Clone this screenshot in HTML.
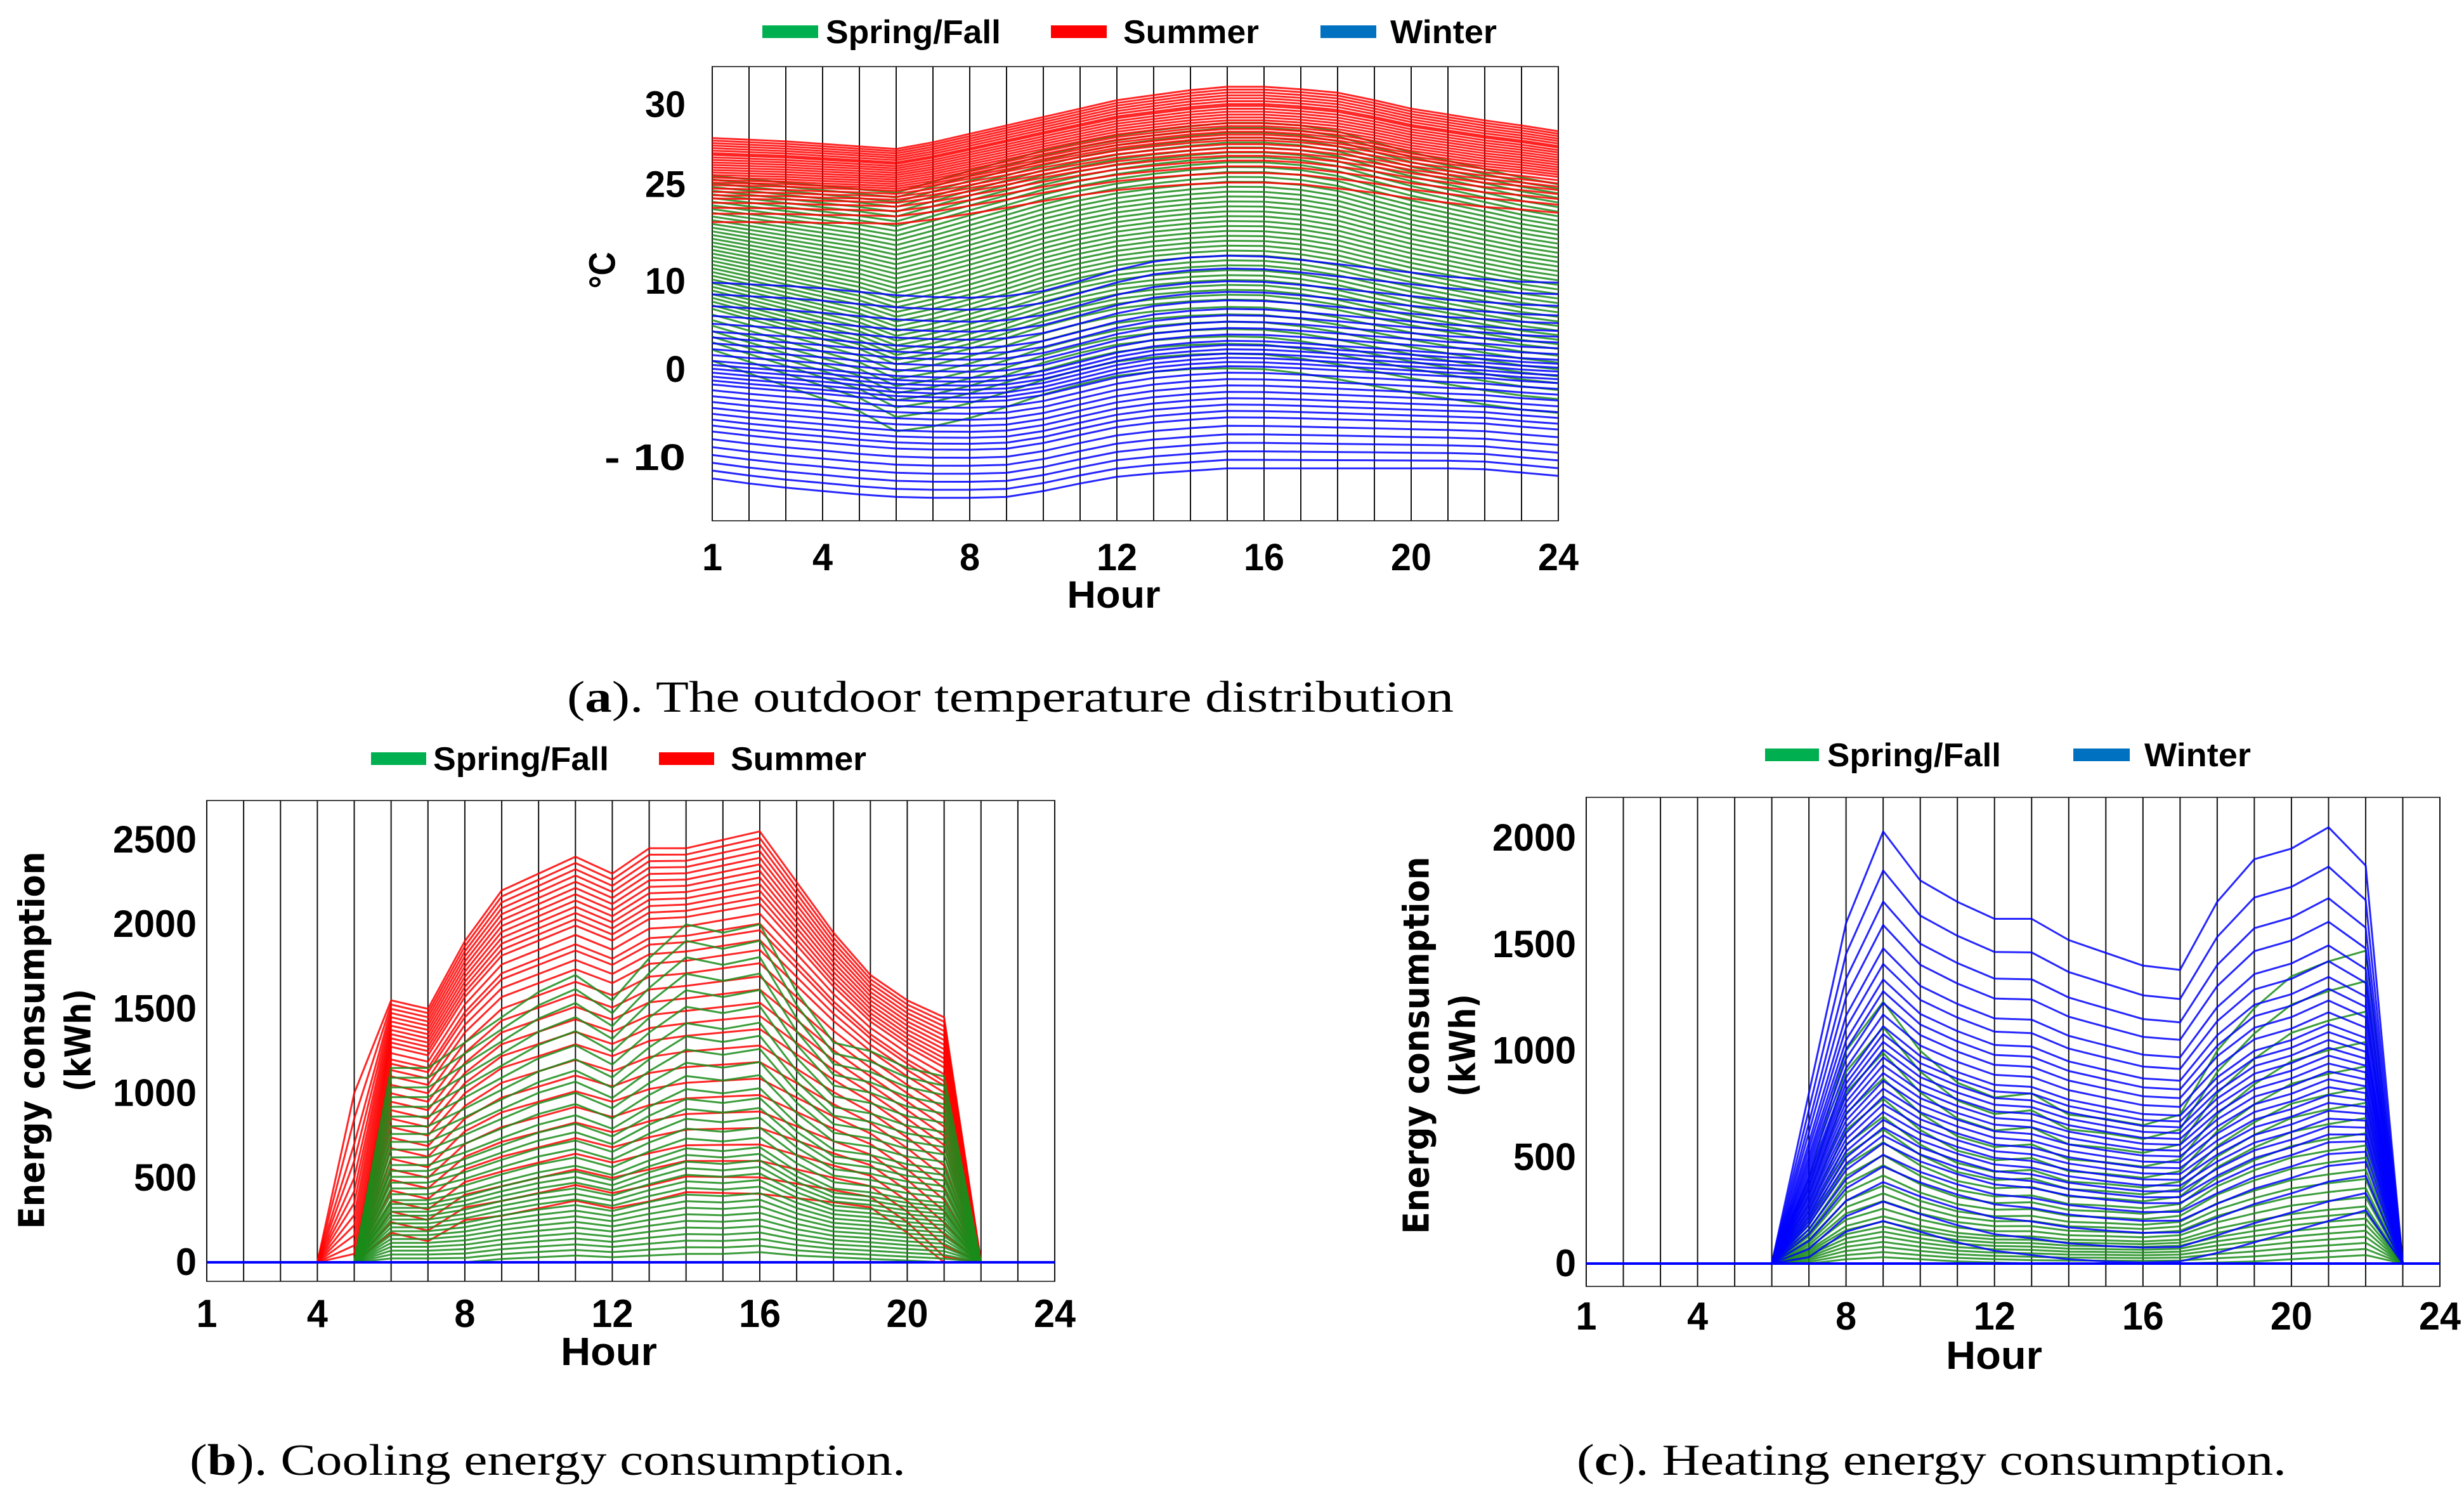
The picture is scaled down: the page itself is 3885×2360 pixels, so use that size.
<!DOCTYPE html>
<html><head><meta charset="utf-8"><style>
html,body{margin:0;padding:0;background:#fff;}
svg{display:block;}
</style></head><body>
<svg id="root" xmlns="http://www.w3.org/2000/svg" width="3885" height="2360" viewBox="0 0 3885 2360">
<rect x="0" y="0" width="3885" height="2360" fill="#fff"/>
</svg>
<script>
// ---------- Hours ----------
const hours = [1,2,3,4,5,6,7,8,9,10,11,12,13,14,15,16,17,18,19,20,21,22,23,24];
const xTickHours = [1,4,8,12,16,20,24];

// ---------- Chart (a) temperature ----------
const tempSummerUpper = [27.5,27.3,27.1,26.8,26.5,26.2,27,28,29,30,31,32,32.6,33.2,33.6,33.6,33.3,32.9,32,31,30.3,29.6,29,28.3];
const tempSummerLower = [17.5,17.5,17.5,17.4,17.4,17.3,17.8,18.5,19.2,20,20.7,21.3,21.7,22,22.2,22.2,22,21.5,21,20.3,19.8,19.3,19,18.6];
const tempSummerMix = [0,0.03,0.06,0.09,0.12,0.15,0.18,0.2,0.23,0.26,0.29,0.32,0.35,0.38,0.41,0.44,0.47,0.5,0.53,0.56,0.6,0.64,0.68,0.72,0.77,0.83,0.9,1];
const tempGreenUpper = [23,22.6,22.2,21.8,21.4,21,22.3,23.6,24.8,26,27,27.8,28.4,28.9,29.3,29.3,29,28.3,27,25.8,24.8,23.8,22.8,22];
const tempGreenLower = [1,-0.5,-2,-3.5,-5,-7.4,-6.8,-5.8,-4.5,-3,-1.8,-0.8,-0.3,0,0.1,0,-0.5,-1.2,-2,-2.8,-3.5,-4.2,-4.8,-5.2];
const tempGreenMix = [0,0.02,0.04,0.06,0.08,0.1,0.12,0.14,0.16,0.18,0.2,0.22,0.24,0.26,0.28,0.3,0.32,0.34,0.36,0.38,0.4,0.42,0.44,0.46,0.48,0.5,0.52,0.54,0.56,0.58,0.6,0.62,0.64,0.66,0.68,0.7,0.72,0.75,0.78,0.81,0.84,0.87,0.9,0.94,1];
const tempWinterUpper = [10.3,10.1,9.9,9.6,9.2,8.8,8.6,8.5,8.7,9.3,10.5,11.8,12.8,13.3,13.5,13.4,13,12.5,12,11.5,11,10.7,10.4,10.3];
const tempWinterLower = [-13,-13.6,-14.1,-14.5,-14.9,-15.2,-15.3,-15.3,-15.2,-14.5,-13.6,-12.8,-12.4,-12.1,-11.8,-11.8,-11.8,-11.8,-11.8,-11.8,-11.8,-11.9,-12.3,-12.7];
const tempWinterMix = [0,0.06,0.12,0.17,0.21,0.25,0.28,0.31,0.34,0.37,0.4,0.42,0.44,0.46,0.48,0.5,0.52,0.55,0.58,0.61,0.64,0.67,0.7,0.73,0.76,0.8,0.84,0.88,0.92,0.96,1];
const tempTickVals = [31.5,22,10.5,0,-10.5];
const tempTickLabels = ["30","25","10","0","- 10"];

// ---------- Chart (b) cooling ----------
const coolSummerUpper = [0,0,0,0,0,1550,1500,1900,2200,2300,2400,2300,2450,2450,2500,2550,2250,1950,1700,1550,1450,0,0,0];
const coolSummerLower = [0,0,0,0,0,300,250,400,450,500,550,500,550,600,600,600,550,500,450,300,100,0,0,0];
const coolSummerMix = [0,0.02,0.04,0.06,0.08,0.1,0.12,0.14,0.16,0.18,0.2,0.22,0.25,0.28,0.3,0.33,0.36,0.4,0.44,0.48,0.52,0.56,0.6,0.65,0.7,0.75,0.8,0.85,0.9,0.95,1.0,1.05,1.1];
const coolSummerH5 = [1000,850,700,600,500,420,350,280,220,160,100,50,0,0,0,0,0,0,0,0,0,0,0,0,0,0,0,0,0,0,0,0,0];
const coolGreenUpper = [0,0,0,0,0,1150,1150,1300,1450,1600,1700,1550,1800,2000,1950,2000,1600,1300,1250,1150,1100,0,0,0];
const coolGreenLower = [0,0,0,0,0,0,0,0,20,30,40,30,40,50,50,60,40,30,20,10,0,0,0,0];
const coolGreenMix = [0,0.05,0.1,0.15,0.2,0.25,0.3,0.34,0.38,0.42,0.46,0.5,0.53,0.56,0.59,0.62,0.65,0.68,0.7,0.72,0.74,0.76,0.78,0.8,0.82,0.84,0.86,0.88,0.9,0.92,0.94,0.96,0.98,1];
const coolTickVals = [0,500,1000,1500,2000,2500];
const coolTickLabels = ["0","500","1000","1500","2000","2500"];

// ---------- Chart (c) heating ----------
const heatWinterUpper = [0,0,0,0,0,0,800,1600,2030,1800,1700,1620,1620,1520,1460,1400,1380,1700,1900,1950,2050,1870,0,0];
const heatWinterLower = [0,0,0,0,0,0,30,150,200,150,100,60,40,20,10,5,10,50,100,150,200,250,0,0];
const heatWinterMix = [0,0.1,0.18,0.24,0.3,0.34,0.38,0.41,0.44,0.47,0.5,0.52,0.54,0.56,0.58,0.6,0.62,0.64,0.66,0.68,0.7,0.72,0.74,0.76,0.78,0.8,0.83,0.86,0.9,0.95,1];
const heatGreenUpper = [0,0,0,0,0,0,400,1000,1230,1000,850,780,800,700,680,650,700,1000,1200,1350,1420,1470,0,0];
const heatGreenLower = [0,0,0,0,0,0,0,20,30,20,10,5,0,0,0,0,0,5,10,20,30,40,0,0];
const heatGreenMix = [0,0.1,0.2,0.3,0.38,0.45,0.5,0.55,0.6,0.64,0.68,0.72,0.75,0.78,0.81,0.84,0.86,0.88,0.9,0.92,0.94,0.96,0.98,1];
const heatTickVals = [0,500,1000,1500,2000];
const heatTickLabels = ["0","500","1000","1500","2000"];

const NS = "http://www.w3.org/2000/svg";
const root = document.getElementById('root');
function mk(tag, attrs, parent){
  const e = document.createElementNS(NS, tag);
  for (const k in attrs) e.setAttribute(k, attrs[k]);
  (parent||root).appendChild(e);
  return e;
}

function drawChart(cfg){
  const g = mk('g', {});
  
  
  const xS = h => cfg.x0 + (h-1)*(cfg.x1-cfg.x0)/23;
  const yS = v => cfg.yZero - v*cfg.yPer;
  const fr = mk('rect', {x:cfg.x0, y:cfg.top, width:cfg.x1-cfg.x0, height:cfg.bottom-cfg.top, fill:'none', stroke:'#444', 'stroke-width':2}, g);
  
  
  hours.forEach(h => {
    const l = mk('line', {x1:xS(h), x2:xS(h), y1:cfg.top, y2:cfg.bottom, stroke:'#111', 'stroke-width':2}, g);
    
    
  });
  cfg.series.forEach(s => {
    const sg = mk('g', {}, g);
    
    
    s.mix.forEach((t, i) => {
      const pts = hours.map((h, k) => {
        let v = s.upper[k]*(1-t) + s.lower[k]*t;
        if (s.h5 && k === 4) v = s.h5[i];
        if (cfg.clamp && v < 0) v = 0;
        return xS(h).toFixed(1) + ',' + yS(v).toFixed(1);
      });
      const p = mk('polyline', {points:pts.join(' '), fill:'none', stroke:s.color, 'stroke-width':cfg.sw, 'stroke-opacity':0.85, 'stroke-linejoin':'round'}, sg);
      
      
    });
  });
  if (cfg.zeroLine){
    const z = mk('line', {x1:cfg.x0, x2:cfg.x1, y1:yS(0), y2:yS(0), stroke:'#0000ff', 'stroke-width':4}, g);
    
    
  }
  cfg.tickVals.forEach((v, i) => {
    const lab = cfg.tickLabels[i];
    const t = mk('text', {x:cfg.x0-cfg.labelGap, y:yS(v)+20, 'text-anchor':'end', 'font-family':'Liberation Sans, sans-serif', 'font-weight':'bold', 'font-size':cfg.fs, textLength:lab.length*cfg.cw, lengthAdjust:'spacingAndGlyphs', fill:'#000'}, g);
    t.textContent = lab;
    
    
  });
  xTickHours.forEach(h => {
    const lab = String(h);
    const t = mk('text', {x:xS(h), y:cfg.xLabelY, 'text-anchor':'middle', 'font-family':'Liberation Sans, sans-serif', 'font-weight':'bold', 'font-size':cfg.fs+2, textLength:lab.length*cfg.cw, lengthAdjust:'spacingAndGlyphs', fill:'#000'}, g);
    t.textContent = lab;
    
    
  });
  const ht = mk('text', {x:cfg.hourX, y:cfg.hourY, 'text-anchor':'middle', 'font-family':'Liberation Sans, sans-serif', 'font-weight':'bold', 'font-size':cfg.fs+2, textLength:cfg.cw*4.6, lengthAdjust:'spacingAndGlyphs', fill:'#000'}, g);
  ht.textContent = 'Hour';
  
  
  cfg.legend.forEach(L => {
    const r = mk('rect', {x:L.sx, y:cfg.legY-10, width:L.sw, height:20, fill:L.color}, g);
    
    
    const t = mk('text', {x:L.tx, y:cfg.legY+18, 'font-family':'Liberation Sans, sans-serif', 'font-weight':'bold', 'font-size':52, textLength:L.tw, lengthAdjust:'spacingAndGlyphs', fill:'#000'}, g);
    t.textContent = L.label;
    
    
  });
}

drawChart({name:'temperature-chart', x0:1123, x1:2457, top:105, bottom:821, yZero:582, yPer:13.25, clamp:false, sw:3,
  tickVals:tempTickVals, tickLabels:tempTickLabels, labelGap:42, fs:58, cw:32, xLabelY:899, hourX:1756, hourY:958,
  legY:50,
  legend:[{sx:1202,sw:88,tx:1302,tw:276,color:'#00b050',label:'Spring/Fall'},
          {sx:1657,sw:88,tx:1771,tw:214,color:'#ff0000',label:'Summer'},
          {sx:2082,sw:88,tx:2192,tw:168,color:'#0070c0',label:'Winter'}],
  series:[{name:'spring-fall-series', color:'#1a8c1a', upper:tempGreenUpper, lower:tempGreenLower, mix:tempGreenMix},
          {name:'summer-series', color:'#ff0000', upper:tempSummerUpper, lower:tempSummerLower, mix:tempSummerMix},
          {name:'winter-series', color:'#0000ff', upper:tempWinterUpper, lower:tempWinterLower, mix:tempWinterMix}]});

drawChart({name:'cooling-chart', x0:326, x1:1663, top:1262, bottom:2020, yZero:1990, yPer:0.2664, clamp:true, sw:3, zeroLine:true,
  tickVals:coolTickVals, tickLabels:coolTickLabels, labelGap:16, fs:60, cw:33, xLabelY:2092, hourX:960, hourY:2152,
  legY:1196,
  legend:[{sx:585,sw:87,tx:683,tw:277,color:'#00b050',label:'Spring/Fall'},
          {sx:1039,sw:87,tx:1152,tw:214,color:'#ff0000',label:'Summer'}],
  series:[{name:'summer-series', color:'#ff0000', upper:coolSummerUpper, lower:coolSummerLower, mix:coolSummerMix, h5:coolSummerH5},
          {name:'spring-fall-series', color:'#1a8c1a', upper:coolGreenUpper, lower:coolGreenLower, mix:coolGreenMix}]});

drawChart({name:'heating-chart', x0:2501, x1:3847, top:1257, bottom:2028, yZero:1992, yPer:0.3355, clamp:true, sw:3, zeroLine:true,
  tickVals:heatTickVals, tickLabels:heatTickLabels, labelGap:16, fs:60, cw:33, xLabelY:2096, hourX:3144, hourY:2158,
  legY:1190,
  legend:[{sx:2783,sw:85,tx:2881,tw:274,color:'#00b050',label:'Spring/Fall'},
          {sx:3269,sw:89,tx:3381,tw:168,color:'#0070c0',label:'Winter'}],
  series:[{name:'spring-fall-series', color:'#1a8c1a', upper:heatGreenUpper, lower:heatGreenLower, mix:heatGreenMix},
          {name:'winter-series', color:'#0000ff', upper:heatWinterUpper, lower:heatWinterLower, mix:heatWinterMix}]});

function rotText(x, y, len, fs, txt, name, family){
  const t = mk('text', {x:x, y:y, transform:'rotate(-90 '+x+' '+y+')', 'text-anchor':'middle', 'dominant-baseline':'central',
    'font-family':family, 'font-weight':'bold', 'font-size':fs, textLength:len, lengthAdjust:'spacingAndGlyphs', fill:'#000'});
  t.textContent = txt;
  
  
}
rotText(950, 426, 58, 58, '°C', 'y-axis-title', 'Liberation Sans, sans-serif');
rotText(51, 1640, 595, 56, 'Energy consumption', 'y-axis-title', 'DejaVu Sans, sans-serif');
rotText(124, 1640, 162, 56, '(kWh)', 'y-axis-unit', 'DejaVu Sans, sans-serif');
rotText(2234, 1648, 595, 56, 'Energy consumption', 'y-axis-title', 'DejaVu Sans, sans-serif');
rotText(2307, 1648, 162, 56, '(kWh)', 'y-axis-unit', 'DejaVu Sans, sans-serif');

function caption(x, y, len, letter, rest, name){
  const t = mk('text', {x:x, y:y, 'font-family':'Liberation Serif, serif', 'font-size':70, textLength:len, lengthAdjust:'spacingAndGlyphs', fill:'#000'});
  const a = document.createElementNS(NS, 'tspan'); a.textContent = '(';
  const b = document.createElementNS(NS, 'tspan'); b.setAttribute('font-weight','bold'); b.textContent = letter;
  const c = document.createElementNS(NS, 'tspan'); c.textContent = rest;
  t.appendChild(a); t.appendChild(b); t.appendChild(c);
  
  
}
caption(894, 1122, 1398, 'a', '). The outdoor temperature distribution', 'caption-a');
caption(299, 2325, 1129, 'b', '). Cooling energy consumption.', 'caption-b');
caption(2486, 2325, 1119, 'c', '). Heating energy consumption.', 'caption-c');
</script>
</body></html>
